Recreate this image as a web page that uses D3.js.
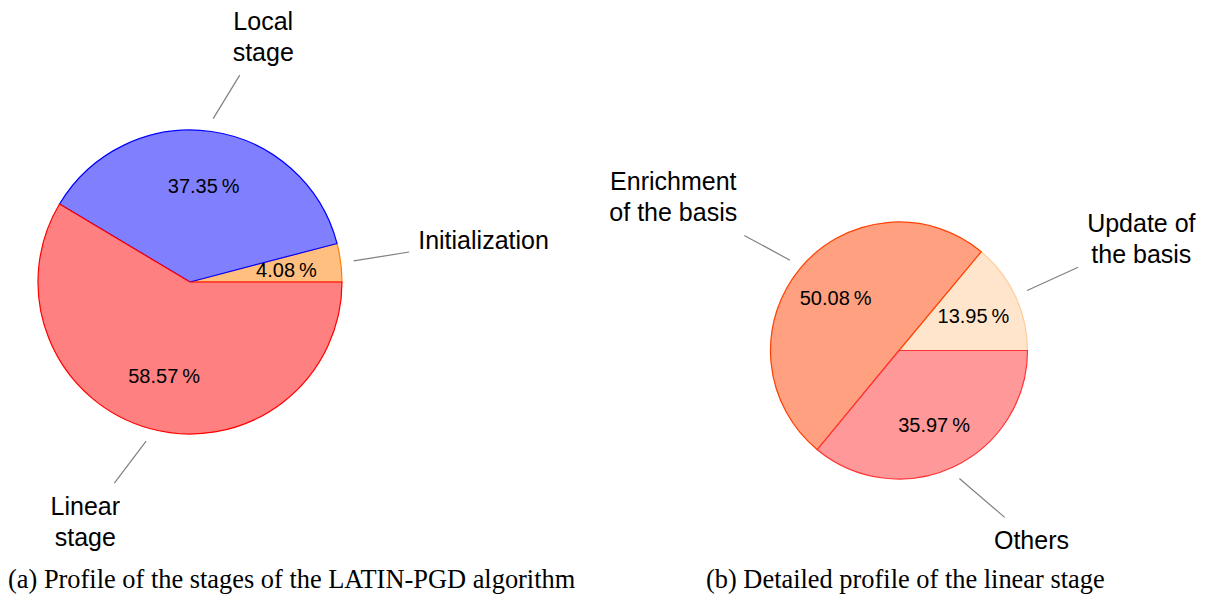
<!DOCTYPE html>
<html>
<head>
<meta charset="utf-8">
<script src="https://cdn.jsdelivr.net/npm/d3@7"></script>
<style>
  html, body { margin: 0; padding: 0; background: #ffffff; }
  svg { display: block; }
  .pin-label, .pct { font-family: "Liberation Sans", Arial, Helvetica, sans-serif; fill: #000; }
  .caption { font-family: "Liberation Serif", "Times New Roman", serif; fill: #000; }
</style>
</head>
<body>
<svg id="chart" width="1211" height="599"></svg>
<script>
// ---- data -------------------------------------------------------------
// (a) stages of the LATIN-PGD algorithm
const stageNames  = ["Initialization", "Local stage", "Linear stage"];
const stageLines  = [["Initialization"], ["Local", "stage"], ["Linear", "stage"]];
const stageShares = [4.08, 37.35, 58.57];
const stageFills  = ["#ffbf80", "#8080ff", "#ff8080"];
const stageStroke = ["#ff8000", "#0000ff", "#ff0000"];

// (b) breakdown of the linear stage
const linearNames  = ["Update of the basis", "Enrichment of the basis", "Others"];
const linearLines  = [["Update of", "the basis"], ["Enrichment", "of the basis"], ["Others"]];
const linearShares = [13.95, 50.08, 35.97];
const linearFills  = ["#ffe5cc", "#ffa080", "#ff9999"];
const linearStroke = ["#ffcc99", "#ff4000", "#ff3333"];

const captions = [
  "(a) Profile of the stages of the LATIN-PGD algorithm",
  "(b) Detailed profile of the linear stage"
];

// ---- layout -----------------------------------------------------------
const svg = d3.select("#chart");
svg.append("rect").attr("width", 1211).attr("height", 599).attr("fill", "#fff");

const LABEL_SIZE = 25, LABEL_LEAD = 31, PCT_SIZE = 20;
const PIN_GAP = 66;      // distance from the rim to the label box corner
const PIN_START = 13;    // pin line starts this far outside the rim
const PAD_X = 12, PAD_Y = 0;  // padding of the label box used for placement
const CLIP_PAD = 9;      // pin line stops this far from the text box

function fmtPct(v) { return v.toFixed(2) + "\u2009%"; }

// parameter along p + t*v where the segment enters the rectangle
function entryParam(px, py, vx, vy, b) {
  let tEnter = 0;
  if (vx !== 0) {
    const t0 = (b.x0 - px) / vx, t1 = (b.x1 - px) / vx;
    tEnter = Math.max(tEnter, Math.min(t0, t1));
  }
  if (vy !== 0) {
    const t0 = (b.y0 - py) / vy, t1 = (b.y1 - py) / vy;
    tEnter = Math.max(tEnter, Math.min(t0, t1));
  }
  return Math.min(1, tEnter);
}

function drawPie(cfg) {
  const { cx, cy, r, names, lines, values, fills, strokes } = cfg;
  const g = svg.append("g").attr("transform", `translate(${cx},${cy})`);

  // slices run counter-clockwise starting at 3 o'clock
  const pie = d3.pie().sort(null).value(d => d.value)
    .startAngle(Math.PI / 2).endAngle(Math.PI / 2 - 2 * Math.PI);
  const rows = values.map((v, i) => ({ value: v, name: names[i], lines: lines[i], fill: fills[i], stroke: strokes[i] }));
  const arcs = pie(rows);

  const arc = d3.arc().innerRadius(0).outerRadius(r);
  const pctArc = d3.arc().innerRadius(r * 0.64).outerRadius(r * 0.64);

  g.selectAll("path.slice").data(arcs).enter().append("path")
    .attr("class", "slice")
    .attr("d", arc)
    .attr("fill", d => d.data.fill)
    .attr("stroke", d => d.data.stroke)
    .attr("stroke-width", 1.2)
    .attr("stroke-linejoin", "round");

  g.selectAll("text.pct").data(arcs).enter().append("text")
    .attr("class", "pct")
    .attr("transform", d => `translate(${pctArc.centroid(d)})`)
    .attr("text-anchor", "middle")
    .attr("dominant-baseline", "central")
    .attr("font-size", PCT_SIZE)
    .text(d => fmtPct(d.data.value));

  arcs.forEach(d => {
    const a = (d.startAngle + d.endAngle) / 2;
    const ux = Math.sin(a), uy = -Math.cos(a);

    // label text, centred lines
    const t = g.append("text").attr("class", "pin-label")
      .attr("font-size", LABEL_SIZE).attr("text-anchor", "middle");
    d.data.lines.forEach((ln, k) => {
      t.append("tspan").attr("x", 0).attr("dy", k === 0 ? 0 : LABEL_LEAD).text(ln);
    });
    const bb = t.node().getBBox();
    const bx0 = bb.x - PAD_X, bx1 = bb.x + bb.width + PAD_X;
    const by0 = bb.y - PAD_Y, by1 = bb.y + bb.height + PAD_Y;

    // box corner facing the pie sits at the pin anchor point
    const ax = ux * (r + PIN_GAP), ay = uy * (r + PIN_GAP);
    const dx = ux >= 0 ? ax - bx0 : ax - bx1;
    const dy = uy <= 0 ? ay - by1 : ay - by0;
    t.attr("transform", `translate(${dx},${dy})`);

    const ccx = bb.x + bb.width / 2 + dx, ccy = bb.y + bb.height / 2 + dy;
    const clip = {
      x0: bb.x + dx - CLIP_PAD, x1: bb.x + bb.width + dx + CLIP_PAD,
      y0: bb.y + dy - CLIP_PAD, y1: bb.y + bb.height + dy + CLIP_PAD
    };

    // pin line aimed at the label centre, stopping short of the text
    const px = ux * (r + PIN_START), py = uy * (r + PIN_START);
    const vx = ccx - px, vy = ccy - py;
    const s = entryParam(px, py, vx, vy, clip);
    g.append("line")
      .attr("x1", px).attr("y1", py)
      .attr("x2", px + vx * s).attr("y2", py + vy * s)
      .attr("stroke", "#808080").attr("stroke-width", 1.2);
  });
}

drawPie({ cx: 190, cy: 282, r: 152, names: stageNames, lines: stageLines,
          values: stageShares, fills: stageFills, strokes: stageStroke });
drawPie({ cx: 899, cy: 350.5, r: 128.5, names: linearNames, lines: linearLines,
          values: linearShares, fills: linearFills, strokes: linearStroke });

svg.append("text").attr("class", "caption").attr("x", 8).attr("y", 588)
  .attr("font-size", 26.4).text(captions[0]);
svg.append("text").attr("class", "caption").attr("x", 706).attr("y", 588)
  .attr("font-size", 26.4).text(captions[1]);
</script>
</body>
</html>
